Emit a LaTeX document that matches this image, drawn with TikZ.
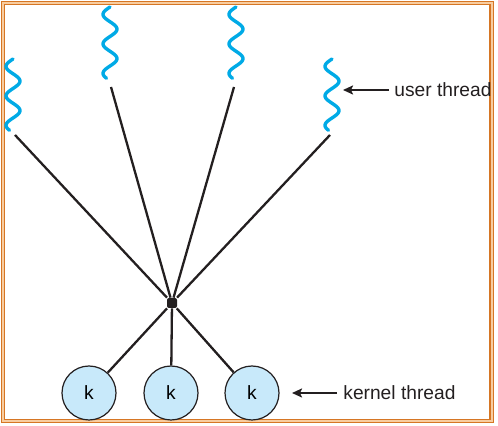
\documentclass[tikz,border=0pt]{standalone}
\usepackage{fontspec}
\setsansfont{Liberation Sans}
\usepackage{xcolor}
\usepackage{tikz}
\usetikzlibrary{arrows.meta}
\usetikzlibrary{positioning}
\usetikzlibrary{calc}

\definecolor{frameorange}{RGB}{214,118,36}
\definecolor{framepeach}{RGB}{248,205,160}
\definecolor{threadblue}{RGB}{0,170,230}
\definecolor{kernfill}{RGB}{200,233,250}
\definecolor{inkgray}{RGB}{35,31,32}

\tikzset{
	frame/.style={draw=frameorange, line width=0.6pt, double=framepeach, double distance=1pt},
	wave/.style={draw=threadblue, line width=1.7pt, line cap=round},
	link/.style={draw=inkgray, line width=1.15pt},
	hub/.style={rectangle, rounded corners=1pt, fill=inkgray, minimum size=5pt, inner sep=0pt},
	kern/.style={circle, draw=inkgray, line width=0.6pt, fill=kernfill, minimum size=27pt, inner sep=0pt},
	tag/.style={anchor=west, text=inkgray},
	pointer/.style={draw=inkgray, line width=1.15pt, -{Stealth[length=5pt,width=4.5pt,inset=1pt]}}
}

\begin{document}
\begin{tikzpicture}[x=0.5pt,y=-0.5pt,font=\sffamily\fontsize{9.6}{11}\selectfont]

			\useasboundingbox (0,0) rectangle (498,426);
			\draw[frame] (3,3) rectangle (491.5,421);

			\foreach \n/\cx/\top/\lx/\ly in {1/13/59/15/135, 2/110/7/111/87, 3/236/7/234/87, 4/332/59/330/135} {
				\draw[wave] plot[domain=0:870, samples=80, smooth] ({\cx - 7*sin(\x)}, {\top + \x/360*29.5});
				\coordinate (ut\n) at (\lx, \ly);
			}

			\node[hub] (hub) at (172, 303) {};

			\node[kern] (k1) at (89, 393) {k};
			\node[kern] (k2) at (171, 393) {k};
			\node[kern] (k3) at (252, 393) {k};

			\foreach \n in {1,...,4}
				\draw[link] (ut\n) -- (hub);
			\foreach \n in {1,...,3}
				\draw[link] (hub) -- (k\n);

			\node[tag, inner sep=2.5pt] (ulabel) at (389, 90) {user thread};
			\coordinate (uarrow) at (343, 90);
			\draw[pointer] (ulabel.west) -- (uarrow);

			\node[tag, inner sep=3pt] (klabel) at (337, 393) {kernel thread};
			\coordinate (karrow) at (292, 393);
			\draw[pointer] (klabel.west) -- (karrow);

		\end{tikzpicture}
\end{document}
